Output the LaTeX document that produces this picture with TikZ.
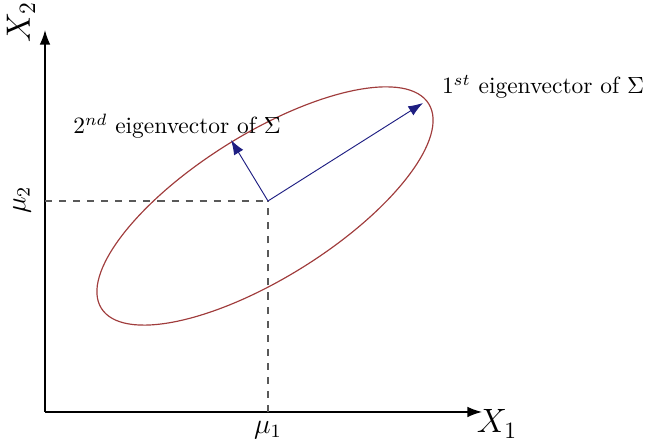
\documentclass[tikz,border=0pt]{standalone}
\usetikzlibrary{arrows.meta}

\definecolor{ellred}{RGB}{160,60,60}
\definecolor{vecblue}{RGB}{30,30,130}

\begin{document}
\begin{tikzpicture}[
  x=0.015cm, y=0.015cm,
  >={Latex[length=2.2mm,width=1.6mm]},
  axis/.style={->, line width=0.6pt},
  guide/.style={dashed, gray!70!black, line width=0.5pt},
  eigvec/.style={->, vecblue, line width=0.4pt},
  lbl/.style={inner sep=1pt}
]
\useasboundingbox (0,0) rectangle (648,441);

% Points of the plot
\coordinate (O) at (45,29);
\coordinate (ytop) at (45,411);
\coordinate (xend) at (482,29);
\coordinate (mu) at (268,240);
\coordinate (mux) at (268,29);
\coordinate (muy) at (45,240);
\coordinate (tip1) at (423,338);
\coordinate (tip2) at (231,301);

% Axes
\draw[axis] (O) -- (ytop);
\draw[axis] (O) -- (xend);
\node[lbl, rotate=90] (x2) at (21,419) {\Large $X_2$};
\node[lbl] (x1) at (497,17) {\Large $X_1$};

% Mean guides
\draw[guide] (muy) -- (mu);
\draw[guide] (mux) -- (mu);
\node[lbl, rotate=90] (mu2) at (22,241) {\large $\mu_2$};
\node[lbl] (mu1) at (268,11) {\large $\mu_1$};

% Covariance ellipse
\draw[ellred, line width=0.5pt, rotate around={32:(265,235)}] (265,235) ellipse [x radius=193, y radius=72];

% Eigenvectors
\draw[eigvec] (mu) -- (tip1);
\draw[eigvec] (mu) -- (tip2);
\node[lbl] (ev1) at (543,354) {$1^{st}$ eigenvector of $\Sigma$};
\node[lbl] (ev2) at (177,315) {$2^{nd}$ eigenvector of $\Sigma$};

\end{tikzpicture}
\end{document}
